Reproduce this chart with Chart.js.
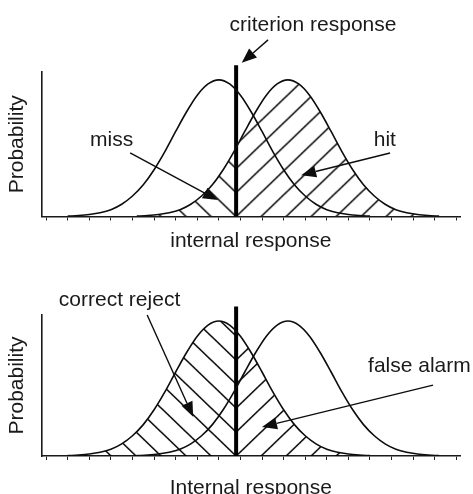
<!DOCTYPE html>
<html>
<head>
<meta charset="utf-8">
<script src="https://cdn.jsdelivr.net/npm/chart.js@4.4.1/dist/chart.umd.min.js"></script>
<style>
  html, body { margin: 0; padding: 0; background: #fff; }
  #topBox { position: relative; width: 473px; height: 258px; }
  #bottomBox { position: relative; width: 473px; height: 236px; }
</style>
</head>
<body>
<div id="topBox"><canvas id="topChart"></canvas></div>
<div id="bottomBox"><canvas id="bottomChart"></canvas></div>
<script>
// noise distribution (left curve)
var noiseX = [1, 1.5, 2, 2.5, 3, 3.5, 4, 4.5, 5, 5.5, 6, 6.5, 7, 7.5, 8, 8.5, 9, 9.5, 10, 10.5, 11, 11.5, 12, 12.5, 13, 13.5, 14, 14.5, 15];
var noiseY = [0.001, 0.003, 0.006, 0.011, 0.020, 0.036, 0.060, 0.093, 0.137, 0.190, 0.249, 0.306, 0.355, 0.388, 0.400,
              0.388, 0.355, 0.306, 0.249, 0.190, 0.137, 0.093, 0.060, 0.036, 0.020, 0.011, 0.006, 0.003, 0.001];

// signal + noise distribution (right curve)
var signalX = [4.2, 4.7, 5.2, 5.7, 6.2, 6.7, 7.2, 7.7, 8.2, 8.7, 9.2, 9.7, 10.2, 10.7, 11.2, 11.7, 12.2, 12.7, 13.2, 13.7, 14.2, 14.7, 15.2, 15.7, 16.2, 16.7, 17.2, 17.7, 18.2];
var signalY = [0.001, 0.003, 0.006, 0.011, 0.020, 0.036, 0.060, 0.093, 0.137, 0.190, 0.249, 0.306, 0.355, 0.388, 0.400,
               0.388, 0.355, 0.306, 0.249, 0.190, 0.137, 0.093, 0.060, 0.036, 0.020, 0.011, 0.006, 0.003, 0.001];

var criterion = 8.8;
var criterionTop = 0.443;

var topLabels = ['criterion response', 'miss', 'hit'];
var bottomLabels = ['correct reject', 'false alarm'];

var INK = '#0d0d0d';
var FONT = "'Liberation Sans', Arial, sans-serif";

Chart.defaults.font.family = FONT;
Chart.defaults.font.size = 21;
Chart.defaults.color = '#1a1a1a';

function points(xs, ys) {
    return xs.map(function (x, i) { return {x: x, y: ys[i]}; });
}

// tile with diagonal lines, dir '/' or '\'
function makeHatch(ctx, dir) {
    var P = 25, Q = 24;
    var tile = document.createElement('canvas');
    tile.width = P;
    tile.height = Q;
    var c = tile.getContext('2d');
    c.strokeStyle = '#000';
    c.lineWidth = 1.5;
    c.beginPath();
    for (var k = -2; k <= 3; k++) {
        if (dir === '/') {
            c.moveTo((k + 1) * P, -Q);
            c.lineTo((k - 2) * P, 2 * Q);
        } else {
            c.moveTo((k - 1) * P, -Q);
            c.lineTo((k + 2) * P, 2 * Q);
        }
    }
    c.stroke();
    return ctx.createPattern(tile, 'repeat');
}

var hatchPlugin = {
    id: 'hatch',
    beforeDatasetsDraw: function (chart, args, opts) {
        var ctx = chart.ctx;
        var area = chart.chartArea;
        var line = chart.getDatasetMeta(opts.dataset).dataset;
        var cx = chart.scales.x.getPixelForValue(criterion);
        var base = chart.scales.y.getPixelForValue(0);
        line.updateControlPoints(area, 'x');
        var pts = line.points;

        if (!chart.$hatch) {
            chart.$hatch = {back: makeHatch(ctx, '\\'), fwd: makeHatch(ctx, '/')};
        }
        var sides = [[area.left, cx, chart.$hatch.back], [cx, area.right, chart.$hatch.fwd]];

        sides.forEach(function (s) {
            s[2].setTransform(new DOMMatrix([1, 0, 0, 1, cx, base]));
            ctx.save();
            ctx.beginPath();
            ctx.rect(s[0], 0, s[1] - s[0], base);
            ctx.clip();
            ctx.beginPath();
            line.path(ctx);
            ctx.lineTo(pts[pts.length - 1].x, base);
            ctx.lineTo(pts[0].x, base);
            ctx.closePath();
            ctx.fillStyle = s[2];
            ctx.fill();
            ctx.restore();
        });
    }
};

// labels and arrows, placed in data units
var notePlugin = {
    id: 'notes',
    afterDraw: function (chart, args, opts) {
        var ctx = chart.ctx;
        var xs = chart.scales.x, ys = chart.scales.y;
        ctx.save();
        ctx.font = '21px ' + FONT;
        ctx.fillStyle = '#1a1a1a';
        ctx.textAlign = 'center';
        ctx.textBaseline = 'middle';
        opts.texts.forEach(function (t) {
            ctx.fillText(t.text, xs.getPixelForValue(t.x), ys.getPixelForValue(t.y));
        });
        ctx.strokeStyle = INK;
        ctx.fillStyle = INK;
        ctx.lineWidth = 1.4;
        opts.arrows.forEach(function (a) {
            var x1 = xs.getPixelForValue(a[0]), y1 = ys.getPixelForValue(a[1]);
            var x2 = xs.getPixelForValue(a[2]), y2 = ys.getPixelForValue(a[3]);
            var ang = Math.atan2(y2 - y1, x2 - x1);
            var L = 15, W = 6;
            var bx = x2 - L * Math.cos(ang), by = y2 - L * Math.sin(ang);
            ctx.beginPath();
            ctx.moveTo(x1, y1);
            ctx.lineTo(bx, by);
            ctx.stroke();
            ctx.beginPath();
            ctx.moveTo(x2, y2);
            ctx.lineTo(bx + W * Math.sin(ang), by - W * Math.cos(ang));
            ctx.lineTo(bx - W * Math.sin(ang), by + W * Math.cos(ang));
            ctx.closePath();
            ctx.fill();
        });
        ctx.restore();
    }
};

function curve(data) {
    return {
        data: data,
        borderColor: INK,
        borderWidth: 1.6,
        pointRadius: 0,
        fill: false,
        cubicInterpolationMode: 'monotone'
    };
}

function makeChart(id, cfg) {
    var ctx = document.getElementById(id).getContext('2d');
    return new Chart(ctx, {
        type: 'line',
        data: {
            datasets: [
                curve(points(noiseX, noiseY)),
                curve(points(signalX, signalY)),
                {
                    data: [{x: criterion, y: 0}, {x: criterion, y: criterionTop}],
                    borderColor: '#000',
                    borderWidth: 4,
                    borderCapStyle: 'butt',
                    pointRadius: 0,
                    fill: false,
                    clip: false
                }
            ]
        },
        options: {
            responsive: true,
            maintainAspectRatio: false,
            animation: false,
            events: [],
            layout: {padding: {top: cfg.padTop, right: 13, left: 0, bottom: 0}},
            scales: {
                x: {
                    type: 'linear',
                    min: -0.21,
                    max: 19.17,
                    grid: {drawOnChartArea: false, drawTicks: true, tickLength: 4, color: '#222', lineWidth: 1},
                    border: {color: '#1a1a1a', width: 1.6},
                    ticks: {display: false, stepSize: 1, includeBounds: false},
                    title: {display: true, text: cfg.xTitle, padding: cfg.xTitlePad}
                },
                y: {
                    min: 0,
                    max: cfg.yMax,
                    grid: {drawOnChartArea: false, drawTicks: false},
                    border: {color: '#1a1a1a', width: 1.6},
                    ticks: {display: false},
                    title: {display: true, text: 'Probability', padding: {top: 5, bottom: 11.4}}
                }
            },
            plugins: {
                legend: {display: false},
                tooltip: {enabled: false},
                hatch: {dataset: cfg.hatched},
                notes: {texts: cfg.texts, arrows: cfg.arrows}
            }
        },
        plugins: [hatchPlugin, notePlugin]
    });
}

makeChart('topChart', {
    padTop: 72,
    yMax: 0.423,
    xTitle: 'internal response',
    xTitlePad: {top: 7.9, bottom: 4.4},
    hatched: 1,
    texts: [
        {text: topLabels[0], x: 12.36, y: 0.561},
        {text: topLabels[1], x: 3.03, y: 0.224},
        {text: topLabels[2], x: 15.69, y: 0.224}
    ],
    arrows: [
        [10.28, 0.517, 9.06, 0.450],
        [3.89, 0.186, 7.96, 0.048],
        [15.93, 0.186, 11.81, 0.121]
    ]
});

makeChart('bottomChart', {
    padTop: 57,
    yMax: 0.418,
    xTitle: 'Internal response',
    xTitlePad: {top: 15.4, bottom: -6.6},
    hatched: 0,
    texts: [
        {text: bottomLabels[0], x: 3.40, y: 0.462},
        {text: bottomLabels[1], x: 17.29, y: 0.267}
    ],
    arrows: [
        [4.68, 0.418, 6.81, 0.116],
        [17.92, 0.210, 10.0, 0.086]
    ]
});
</script>
</body>
</html>
